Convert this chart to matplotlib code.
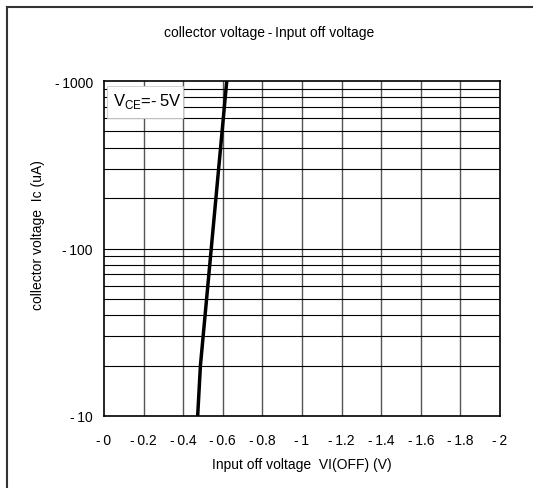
import matplotlib
matplotlib.use('Agg')
import matplotlib.pyplot as plt
from matplotlib.patches import Rectangle
from matplotlib.lines import Line2D
import numpy as np

plt.rcParams['font.family'] = ['Liberation Sans', 'DejaVu Sans']
plt.rcParams['mathtext.fontset'] = 'custom'
plt.rcParams['mathtext.rm'] = 'Liberation Sans'

# curve (x is |VI(OFF)| in V, y is |Ic| in uA)
vi_off = [0.473, 0.487, 0.620]
ic_ua = [10, 20, 1000]

x_ticks = [0, 0.2, 0.4, 0.6, 0.8, 1.0, 1.2, 1.4, 1.6, 1.8, 2.0]
x_labels = ['-\u20090', '-\u20090.2', '-\u20090.4', '-\u20090.6', '-\u20090.8', '-\u20091',
            '-\u20091.2', '-\u20091.4', '-\u20091.6', '-\u20091.8', '-\u20092']
y_ticks = [10, 100, 1000]
y_labels = ['-\u200910', '-\u2009100', '-\u20091000']

W, H = 533, 489
fig = plt.figure(figsize=(W / 100, H / 100), dpi=100)
ax = fig.add_axes([104 / W, 1 - 417 / H, (500 - 104) / W, (417 - 82) / H])

ax.set_yscale('log')
ax.set_xlim(0, 2)
ax.set_ylim(10, 1000)

# grid
for xv in x_ticks[1:-1]:
    ax.axvline(xv, color='#555555', lw=1.0, zorder=1)
minor = [m * 10 ** d for d in (1, 2) for m in range(2, 10)]
for yv in minor + [100]:
    ax.axhline(yv, color='black', lw=0.8, zorder=1)

# label box
ax.add_patch(Rectangle((0.015, 600), 0.385, 330, facecolor='white',
                       edgecolor='#cccccc', lw=0.6, zorder=2))
ax.text(0.045, 770, 'V$_{\\mathrm{CE}}$=-\u20095V', fontsize=12, va='center', ha='left', zorder=3)

ax.plot(vi_off, ic_ua, color='black', lw=2.5, zorder=4, solid_capstyle='butt')

ax.set_xticks(x_ticks)
ax.set_xticklabels(x_labels, fontsize=10)
ax.set_yticks(y_ticks)
ax.set_yticklabels(y_labels, fontsize=10)
ax.yaxis.set_minor_locator(matplotlib.ticker.NullLocator())
ax.tick_params(length=0, pad=8)
ax.tick_params(axis='x', pad=12)
for s in ax.spines.values():
    s.set_color('black')
    s.set_linewidth(1.2)

fig.text(269 / W, 1 - 33 / H, 'collector voltage\u2009-\u2009Input off voltage', fontsize=10,
         ha='center', va='center')
fig.text(302 / W, 1 - 465 / H, 'Input off voltage  VI(OFF) (V)', fontsize=10,
         ha='center', va='center')
fig.text(38 / W, 1 - 235 / H, 'collector voltage  Ic (uA)', fontsize=10,
         ha='center', va='center', rotation=90)

# outer frame (only top and left visible)
fig.add_artist(Line2D([7 / W, 1], [1 - 8 / H, 1 - 8 / H], color='#333333', lw=1.5))
fig.add_artist(Line2D([7 / W, 7 / W], [0, 1 - 8 / H], color='#333333', lw=1.5))

fig.savefig('out.png', dpi=100)
